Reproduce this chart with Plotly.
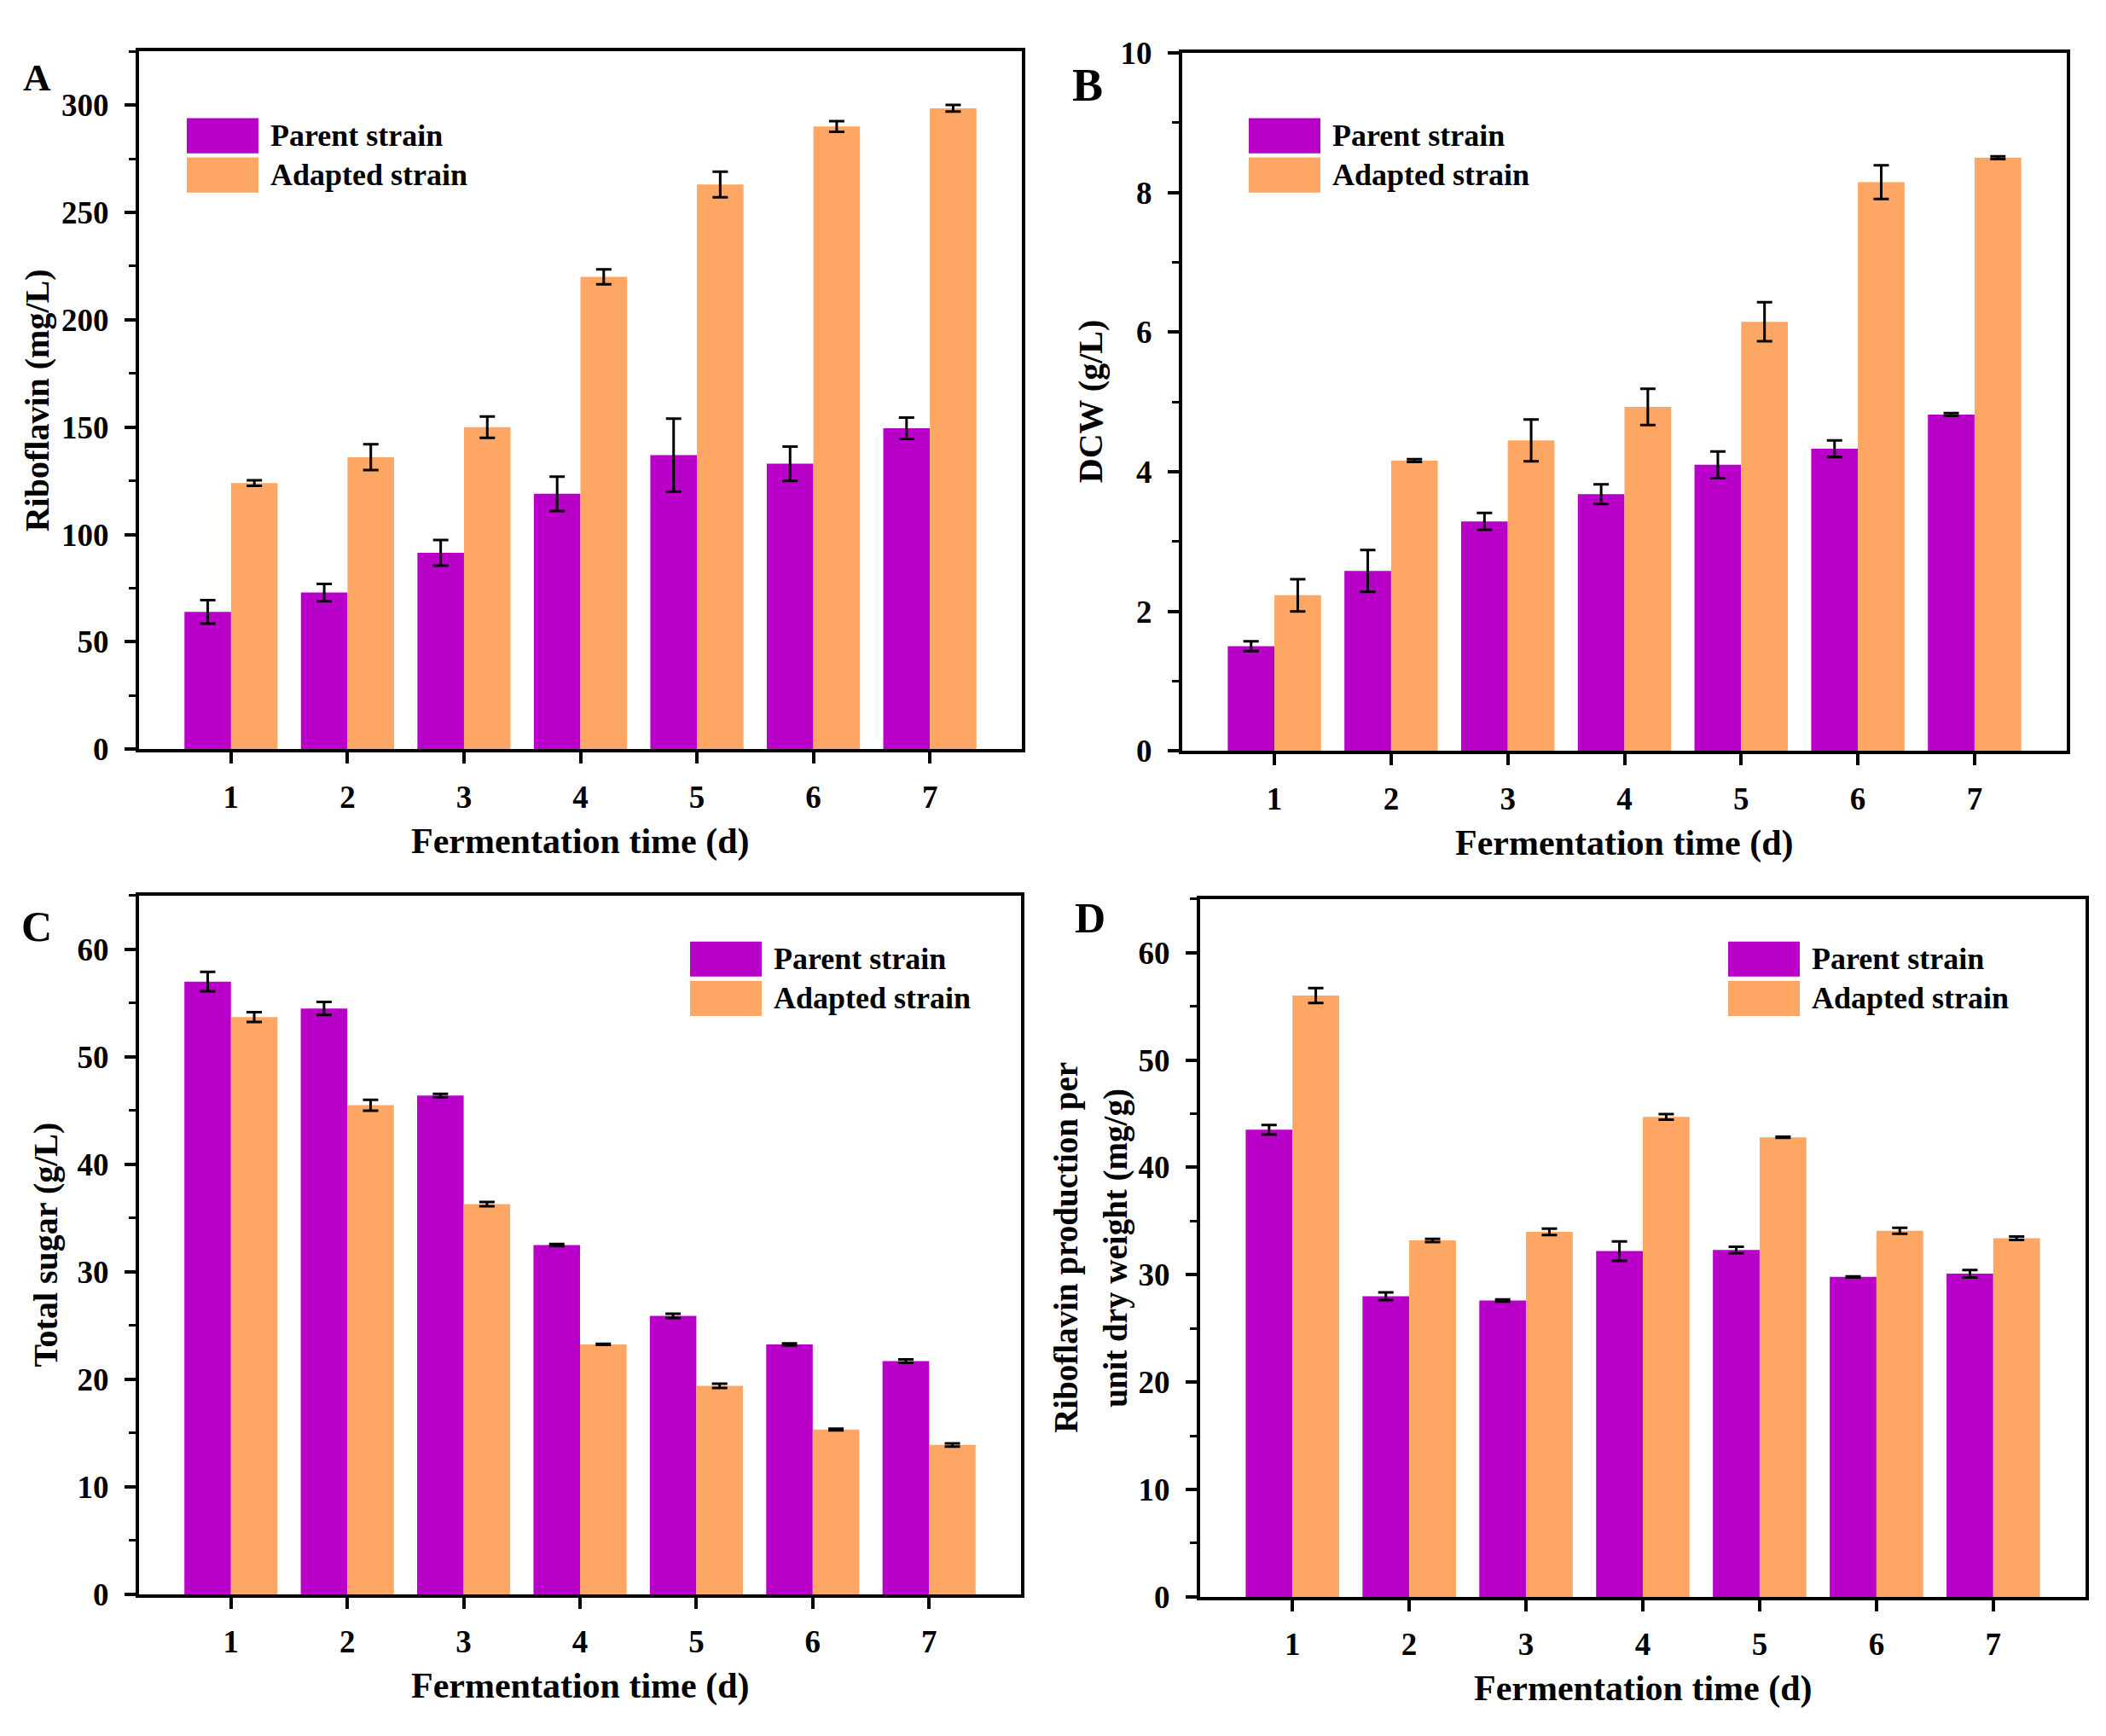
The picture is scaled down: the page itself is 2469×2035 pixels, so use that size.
"""Riboflavin fermentation: parent vs adapted strain, four bar panels."""

import plotly.graph_objects as go

days = [1, 2, 3, 4, 5, 6, 7]
series_names = ["Parent strain", "Adapted strain"]

# A: riboflavin titre (mg/L)
ribo_parent = [64, 73, 91.5, 119, 137, 133, 149.5]
ribo_parent_err = [5.5, 4, 6, 8, 17, 8, 5]
ribo_adapted = [124, 136, 150, 220, 263, 290, 298.5]
ribo_adapted_err = [1.3, 6, 5, 3.5, 6, 2.5, 1.5]

# B: dry cell weight (g/L)
dcw_parent = [1.5, 2.58, 3.29, 3.68, 4.1, 4.33, 4.82]
dcw_parent_err = [0.07, 0.3, 0.12, 0.14, 0.19, 0.12, 0.02]
dcw_adapted = [2.23, 4.16, 4.45, 4.93, 6.15, 8.15, 8.5]
dcw_adapted_err = [0.23, 0.02, 0.3, 0.26, 0.28, 0.24, 0.02]

# C: total sugar (g/L)
sugar_parent = [57.0, 54.5, 46.4, 32.5, 25.9, 23.25, 21.7]
sugar_parent_err = [0.9, 0.6, 0.15, 0.1, 0.2, 0.1, 0.15]
sugar_adapted = [53.7, 45.5, 36.3, 23.25, 19.4, 15.33, 13.9]
sugar_adapted_err = [0.45, 0.5, 0.2, 0.05, 0.2, 0.08, 0.15]

# D: riboflavin per unit dry weight (mg/g)
unit_parent = [43.5, 28.0, 27.6, 32.2, 32.3, 29.8, 30.1]
unit_parent_err = [0.45, 0.35, 0.1, 0.9, 0.3, 0.05, 0.35]
unit_adapted = [56.0, 33.2, 34.0, 44.7, 42.8, 34.1, 33.4]
unit_adapted_err = [0.7, 0.15, 0.3, 0.25, 0.05, 0.28, 0.15]

W, H = 2469, 2035
PURPLE = "#B900C9"
ORANGE = "#FEA764"
FONT = "Liberation Serif"


def px(x):
    return x / W


def py(y):
    return 1 - y / H


# box in pixels: left, right, top, bottom
panels = [
    dict(letter="A", parent=(ribo_parent, ribo_parent_err), adapted=(ribo_adapted, ribo_adapted_err),
         box=(163, 1198, 41, 876), yrange=[0, 325], dtick=50, minor=25,
         ytitle=["Riboflavin (mg/L)"], ytitle_x=[43], ytitle_size=40,
         letter_xy=(43, 72), letter_size=45, legend_xy=(219, 121)),
    dict(letter="B", parent=(dcw_parent, dcw_parent_err), adapted=(dcw_adapted, dcw_adapted_err),
         box=(1386, 2423, 43, 878), yrange=[0, 10], dtick=2, minor=1,
         ytitle=["DCW (g/L)"], ytitle_x=[1278], ytitle_size=40,
         letter_xy=(1275, 82), letter_size=54, legend_xy=(1464, 121)),
    dict(letter="C", parent=(sugar_parent, sugar_parent_err), adapted=(sugar_adapted, sugar_adapted_err),
         box=(163, 1197, 1051, 1887), yrange=[0, 65], dtick=10, minor=5,
         ytitle=["Total sugar (g/L)"], ytitle_x=[53], ytitle_size=40,
         letter_xy=(43, 1088), letter_size=50, legend_xy=(809, 1106)),
    dict(letter="D", parent=(unit_parent, unit_parent_err), adapted=(unit_adapted, unit_adapted_err),
         box=(1407, 2445, 1055, 1890), yrange=[0, 65], dtick=10, minor=5,
         ytitle=["Riboflavin production per", "unit dry weight (mg/g)"], ytitle_x=[1250, 1308],
         ytitle_size=39, letter_xy=(1278, 1078), letter_size=50, legend_xy=(2026, 1106)),
]

fig = go.Figure()
shapes = []
annotations = []

for n, p in enumerate(panels, start=1):
    xa = "x" if n == 1 else "x%d" % n
    ya = "y" if n == 1 else "y%d" % n
    left, right, top, bottom = p["box"]

    for name, (vals, errs), color in [(series_names[0], p["parent"], PURPLE),
                                      (series_names[1], p["adapted"], ORANGE)]:
        fig.add_trace(go.Bar(
            x=days, y=vals, name=name, xaxis=xa, yaxis=ya,
            offsetgroup=name, marker=dict(color=color, line_width=0),
            error_y=dict(type="data", array=errs, color="black", thickness=3, width=9),
            showlegend=False,
        ))

    axis_common = dict(
        showline=True, linecolor="black", linewidth=4, mirror=True,
        ticks="outside", ticklen=13, tickwidth=4, tickcolor="black",
        tickfont=dict(family=FONT, size=37, color="black", weight="bold"),
        showgrid=False, zeroline=False,
    )
    fig.layout[("xaxis" if n == 1 else "xaxis%d" % n)] = dict(
        domain=[px(left), px(right)], anchor=ya, range=[0.21, 7.79],
        tickvals=days, ticklabelstandoff=7, **axis_common,
    )
    fig.layout[("yaxis" if n == 1 else "yaxis%d" % n)] = dict(
        domain=[py(bottom), py(top)], anchor=xa, range=p["yrange"], dtick=p["dtick"],
        ticklabelstandoff=11,
        minor=dict(dtick=p["minor"], ticks="outside", ticklen=8, tickwidth=3, tickcolor="black"),
        **axis_common,
    )

    # legend swatches and labels
    lx, ly = p["legend_xy"]
    for k, (name, color) in enumerate([(series_names[0], PURPLE), (series_names[1], ORANGE)]):
        y0 = ly + k * 47
        shapes.append(dict(type="rect", xref="paper", yref="paper",
                           x0=px(lx), x1=px(lx + 84), y0=py(y0), y1=py(y0 + 42),
                           fillcolor=color, line_width=0))
        annotations.append(dict(x=px(lx + 96), y=py(y0 + 21), xref="paper", yref="paper",
                                text=name, showarrow=False, xanchor="left", yanchor="middle",
                                font=dict(family=FONT, size=36, color="black", weight="bold")))

    # panel letter
    annotations.append(dict(x=px(p["letter_xy"][0]), y=py(p["letter_xy"][1]), xref="paper", yref="paper",
                            text=p["letter"], showarrow=False, xanchor="center", yanchor="middle",
                            font=dict(family=FONT, size=p["letter_size"], color="black", weight="bold")))

    # axis titles
    annotations.append(dict(x=px((left + right) / 2), y=py(bottom + 110), xref="paper", yref="paper",
                            text="Fermentation time (d)", showarrow=False, xanchor="center", yanchor="middle",
                            font=dict(family=FONT, size=42, color="black", weight="bold")))
    for line, tx in zip(p["ytitle"], p["ytitle_x"]):
        annotations.append(dict(x=px(tx), y=py((top + bottom) / 2), xref="paper", yref="paper",
                                text=line, textangle=-90, showarrow=False,
                                xanchor="center", yanchor="middle",
                                font=dict(family=FONT, size=p["ytitle_size"], color="black", weight="bold")))

fig.update_layout(
    width=W, height=H,
    margin=dict(l=0, r=0, t=0, b=0),
    paper_bgcolor="white", plot_bgcolor="white",
    barmode="group", bargap=0.2, bargroupgap=0,
    shapes=shapes, annotations=annotations,
    showlegend=False,
)

# drop the default 8px page margin so the figure sits at the window corner
fig.write_html("out.html", config={"displayModeBar": False},
               post_script="document.body.style.margin='0';")
